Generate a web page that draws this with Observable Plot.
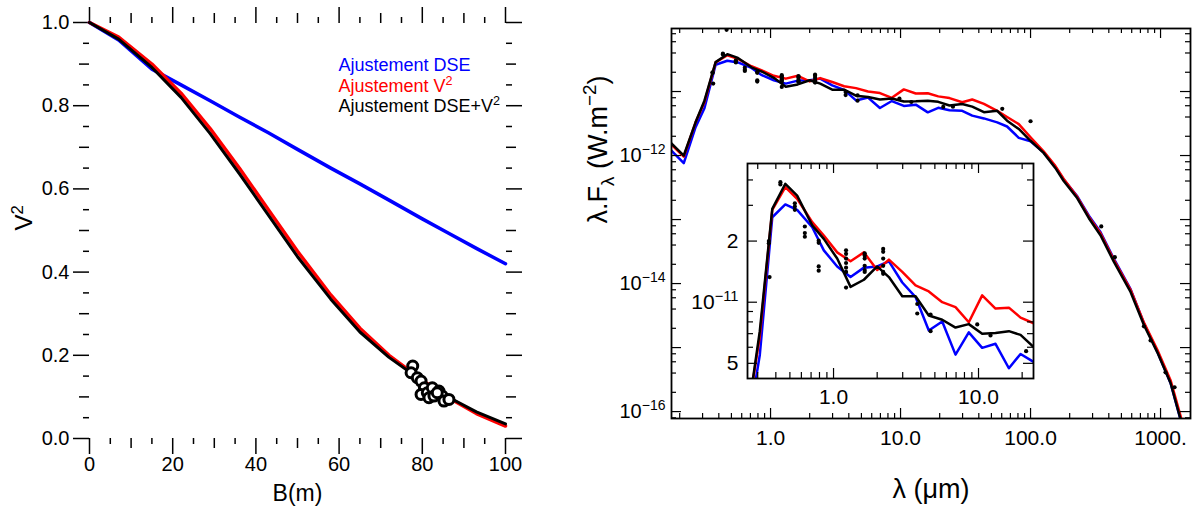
<!DOCTYPE html>
<html>
<head>
<meta charset="utf-8">
<script src="https://cdn.jsdelivr.net/npm/d3@7"></script>
<script src="https://cdn.jsdelivr.net/npm/@observablehq/plot@0.6"></script>
<style>
  html, body { margin: 0; padding: 0; background: #fff; }
  #chart { position: relative; width: 1193px; height: 520px; overflow: hidden; background: #fff; }
  #chart > svg { position: absolute; }
</style>
</head>
<body>
<div id="chart"></div>
<script>
// ---------------- Left panel data: V^2 versus baseline ----------------
const baselines  = [0, 7, 15, 22, 29, 36, 43, 50, 58, 65, 72, 80, 86, 93, 100];
const v2FitDSE   = [1, 0.958, 0.888, 0.85, 0.812, 0.773, 0.735, 0.695, 0.65, 0.612, 0.573, 0.528, 0.495, 0.457, 0.42];
const v2FitV2    = [1, 0.965, 0.90, 0.83, 0.745, 0.65, 0.55, 0.45, 0.345, 0.265, 0.20, 0.14, 0.10, 0.06, 0.03];
const v2FitBoth  = [1, 0.96, 0.892, 0.82, 0.733, 0.637, 0.537, 0.437, 0.335, 0.256, 0.195, 0.138, 0.101, 0.064, 0.035];
const obsBaseline = [77.7, 77.3, 78.8, 79.7, 80.5, 79.7, 81.2, 82.4, 81.6, 82.8, 84.0, 84.8, 85.2, 86.4, 83.6];
const obsV2       = [0.174, 0.158, 0.146, 0.138, 0.122, 0.106, 0.110, 0.122, 0.098, 0.102, 0.114, 0.102, 0.090, 0.094, 0.110];
const legendLabels = ["Ajustement DSE", "Ajustement V^{2}", "Ajustement DSE+V^{2}"];
const legendColors = ["#0000ff", "#ff0000", "#000000"];
const bMajorTicks = [0, 20, 40, 60, 80, 100];
const bMidTicks   = [10, 30, 50, 70, 90];
const bMinorTicks = [5, 15, 25, 35, 45, 55, 65, 75, 85, 95];
const v2MajorTicks = [0, 0.2, 0.4, 0.6, 0.8, 1.0];
const v2MidTicks   = [0.1, 0.3, 0.5, 0.7, 0.9];
const v2MinorTicks = [0.05, 0.15, 0.25, 0.35, 0.45, 0.55, 0.65, 0.75, 0.85, 0.95];

// ---------------- Right panel data: SED ----------------
const wavelengths = [0.172, 0.215, 0.265, 0.31, 0.378, 0.465, 0.561, 0.713, 0.857, 1.06, 1.31, 1.62, 2.0, 2.41, 2.98, 3.68, 4.54, 5.62, 6.94, 8.57, 10.6, 13.1, 16.2, 19.5, 23.8, 29.8, 35.6, 43.8, 55.4, 66.0, 81.2, 100, 126, 155, 180, 229, 281, 345, 437, 588, 745, 943, 1194, 1425, 1700];
const sedDSE  = [1.2e-12, 7.6e-13, 2.77e-12, 5.5e-12, 2.62e-11, 3.03e-11, 2.85e-11, 2.34e-11, 1.80e-11, 1.50e-11, 1.33e-11, 1.48e-11, 1.50e-11, 1.59e-11, 1.25e-11, 1.06e-11, 7.26e-12, 8.04e-12, 5.52e-12, 7.1e-12, 5.96e-12, 6.24e-12, 4.73e-12, 5.56e-12, 5.1e-12, 5.0e-12, 4.2e-12, 3.8e-12, 3.3e-12, 2.84e-12, 1.89e-12, 1.67e-12, 1.12e-12, 6.7e-13, 4.2e-13, 2.3e-13, 1.15e-13, 6.4e-14, 2.45e-14, 8.2e-15, 2.4e-15, 8.7e-16, 2.8e-16, 7.5e-17, 1.7e-17];
const sedV2   = [1.49e-12, 9.6e-13, 3.3e-12, 6.8e-12, 2.85e-11, 3.69e-11, 3.23e-11, 2.48e-11, 2.13e-11, 1.76e-11, 1.59e-11, 1.76e-11, 1.44e-11, 1.62e-11, 1.41e-11, 1.21e-11, 1.13e-11, 1.0e-11, 9.45e-12, 7.97e-12, 1.08e-11, 9.3e-12, 9.4e-12, 8.4e-12, 7.9e-12, 6.8e-12, 7.5e-12, 6.4e-12, 5.0e-12, 4.0e-12, 3.1e-12, 1.93e-12, 1.16e-12, 6.9e-13, 4.3e-13, 2.25e-13, 1.1e-13, 6.1e-14, 2.35e-14, 8.0e-15, 2.45e-15, 9.3e-16, 3.1e-16, 8.6e-17, 2.1e-17];
const sedBoth = [1.56e-12, 1.0e-12, 3.3e-12, 7.2e-12, 2.88e-11, 3.83e-11, 3.35e-11, 2.39e-11, 2.05e-11, 1.64e-11, 1.19e-11, 1.29e-11, 1.50e-11, 1.33e-11, 1.07e-11, 1.07e-11, 8.6e-12, 8.2e-12, 7.5e-12, 7.8e-12, 7.0e-12, 7.05e-12, 7.2e-12, 6.9e-12, 6.05e-12, 6.4e-12, 5.8e-12, 4.75e-12, 5.0e-12, 3.5e-12, 2.6e-12, 1.7e-12, 1.1e-12, 6.4e-13, 4.0e-13, 2.15e-13, 1.05e-13, 5.7e-14, 2.2e-14, 7.4e-15, 2.25e-15, 8.5e-16, 2.8e-16, 7.6e-17, 1.8e-17];
const obsWavelength = [0.358, 0.358, 0.362, 0.43, 0.43, 0.459, 0.541, 0.541, 0.541, 0.634, 0.634, 0.634, 0.79, 0.79, 0.79, 0.79, 1.22, 1.22, 1.22, 1.22, 1.22, 1.22, 1.22, 1.64, 1.64, 1.64, 1.64, 1.64, 1.64, 2.2, 2.2, 2.2, 2.2, 2.2, 2.2, 3.78, 3.78, 4.67, 4.67, 9.8, 12.1, 21.3, 25.3, 60.6, 100, 350, 445, 745, 838, 1092, 1282];
const obsFlux = [2.0e-11, 1.95e-11, 1.33e-11, 3.9e-11, 3.8e-11, 9.2e-11, 3.07e-11, 2.96e-11, 2.85e-11, 2.36e-11, 2.19e-11, 2.1e-11, 2.01e-11, 1.96e-11, 1.5e-11, 1.43e-11, 1.8e-11, 1.73e-11, 1.64e-11, 1.56e-11, 1.48e-11, 1.41e-11, 1.18e-11, 1.74e-11, 1.7e-11, 1.64e-11, 1.51e-11, 1.44e-11, 1.41e-11, 1.83e-11, 1.77e-11, 1.64e-11, 1.51e-11, 1.41e-11, 1.38e-11, 9.8e-12, 8.8e-12, 8.7e-12, 7.2e-12, 7.77e-12, 6.86e-12, 5.74e-12, 5.8e-12, 5.37e-12, 3.43e-12, 7.8e-14, 2.58e-14, 2.15e-15, 1.29e-15, 4.1e-16, 2.4e-16];

const lamMajorTicks = [1, 10, 100, 1000];
const lamMajorLabels = ["1.0", "10.0", "100.0", "1000."];
const fluxLabelTicks = [1e-12, 1e-14, 1e-16];
const fluxLabels = ["10^{−12}", "10^{−14}", "10^{−16}"];
const fluxMajorTicks = [1e-16, 1e-15, 1e-14, 1e-13, 1e-12, 1e-11];
const insetLamTicks = [1, 10];
const insetLamLabels = ["1.0", "10.0"];
const insetFluxTicks = [5e-12, 1e-11, 2e-11];
const insetFluxLabels = ["5", "10^{−11}", "2"];
const insetFluxMinor = [6e-12, 7e-12, 8e-12, 9e-12, 3e-11, 4e-11];

// ---------------- helpers ----------------
const FONT = '"Liberation Sans", Arial, Helvetica, sans-serif';
const baseStyle = {fontFamily: FONT, fontSize: "20px", background: "transparent", color: "black", overflow: "visible"};
const decadeMinor = (lo, hi, mults) => {
  const out = [];
  for (let e = lo; e <= hi; e++) for (const m of mults) out.push(m * Math.pow(10, e));
  return out;
};
const within = (arr, [a, b]) => arr.filter((d) => d >= a && d <= b);

function richify(root) {
  const NS = "http://www.w3.org/2000/svg";
  root.querySelectorAll("text").forEach((t) => {
    const s = t.textContent;
    if (!/[\^_]\{/.test(s)) return;
    const fs = parseFloat(getComputedStyle(t).fontSize) || 18;
    t.textContent = "";
    let shift = 0;
    const add = (txt, target, small) => {
      if (!txt) return;
      const sp = document.createElementNS(NS, "tspan");
      const d = target - shift;
      if (d) sp.setAttribute("dy", d.toFixed(2));
      if (small) sp.setAttribute("font-size", (fs * 0.7).toFixed(2));
      sp.textContent = txt;
      t.appendChild(sp);
      shift = target;
    };
    const re = /([\^_])\{([^}]*)\}/g;
    let last = 0, m;
    while ((m = re.exec(s))) {
      add(s.slice(last, m.index), 0, false);
      add(m[2], m[1] === "^" ? -fs * 0.4 : fs * 0.24, true);
      last = re.lastIndex;
    }
    add(s.slice(last), 0, false);
  });
}

const chart = document.getElementById("chart");

// ---------------- Left panel ----------------
const vRows = (vals) => baselines.map((b, i) => ({b, v: vals[i]}));
const obsVRows = obsBaseline.map((b, i) => ({b, v: obsV2[i]}));
const tickOpts = {stroke: "black", strokeWidth: 1.5, fill: "none", label: null};

const left = Plot.plot({
  width: 570, height: 520,
  marginLeft: 89, marginRight: 65, marginTop: 22, marginBottom: 82,
  style: baseStyle,
  x: {type: "linear", domain: [0, 100], label: null},
  y: {type: "linear", domain: [0, 1], label: null},
  marks: [
    Plot.axisY(v2MajorTicks, {anchor: "left", tickSize: 16, tickPadding: 4, tickFormat: d3.format(".1f"), stroke: "black", strokeWidth: 1.5, label: null}),
    Plot.axisY(v2MidTicks, {anchor: "left", tickSize: 10, ...tickOpts}),
    Plot.axisY(v2MinorTicks, {anchor: "left", tickSize: 6, ...tickOpts}),
    Plot.axisY(v2MajorTicks, {anchor: "right", tickSize: 16, ...tickOpts}),
    Plot.axisY(v2MidTicks, {anchor: "right", tickSize: 10, ...tickOpts}),
    Plot.axisY(v2MinorTicks, {anchor: "right", tickSize: 6, ...tickOpts}),
    Plot.axisX(bMajorTicks, {anchor: "bottom", tickSize: 16, tickPadding: 2, tickFormat: d3.format("d"), stroke: "black", strokeWidth: 1.5, label: null}),
    Plot.axisX(bMidTicks, {anchor: "bottom", tickSize: 10, ...tickOpts}),
    Plot.axisX(bMinorTicks, {anchor: "bottom", tickSize: 6, ...tickOpts}),
    Plot.axisX(bMajorTicks, {anchor: "top", tickSize: 16, ...tickOpts}),
    Plot.axisX(bMidTicks, {anchor: "top", tickSize: 10, ...tickOpts}),
    Plot.axisX(bMinorTicks, {anchor: "top", tickSize: 6, ...tickOpts}),
    Plot.line(vRows(v2FitDSE), {x: "b", y: "v", stroke: legendColors[0], strokeWidth: 3.5}),
    Plot.line(vRows(v2FitV2), {x: "b", y: "v", stroke: legendColors[1], strokeWidth: 3.5}),
    Plot.line(vRows(v2FitBoth), {x: "b", y: "v", stroke: legendColors[2], strokeWidth: 3}),
    Plot.dot(obsVRows, {x: "b", y: "v", r: 5, fill: "white", stroke: "black", strokeWidth: 3}),
    ...legendLabels.map((t, i) => Plot.text([t], {frameAnchor: "top-left", dx: 249, dy: 36 + i * 20.5, textAnchor: "start", fill: legendColors[i], fontSize: 18})),
    Plot.text(["B(m)"], {frameAnchor: "bottom", dy: 62, fontSize: 23}),
    Plot.text(["V^{2}"], {frameAnchor: "left", dx: -65, rotate: -90, fontSize: 24})
  ]
});
left.style.left = "0px"; left.style.top = "0px";
chart.appendChild(left);

// ---------------- Right panel (main SED) ----------------
const sedRows = (vals) => wavelengths.map((w, i) => ({w, f: vals[i]}));
const obsRows = obsWavelength.map((w, i) => ({w, f: obsFlux[i]}));
const mainX = [0.173, 1700];
const mainY = [7.8e-17, 9.65e-11];
const PW = 623 - 101 - 3, PH = 520 - 28 - 102;
const mainXMinor = within(decadeMinor(-1, 2, [2, 3, 4, 5, 6, 7, 8, 9]), mainX);
const mainYMinor = within(decadeMinor(-17, -11, [2, 4, 6, 8]), mainY);
const tk = {stroke: "black", strokeWidth: 1.2};

const main = Plot.plot({
  width: 623, height: 520,
  marginLeft: 101, marginRight: 3, marginTop: 28, marginBottom: 102,
  style: baseStyle,
  x: {type: "log", domain: mainX, label: null},
  y: {type: "log", domain: mainY, label: null},
  marks: [
    Plot.line(sedRows(sedDSE), {x: "w", y: "f", stroke: "#0000ff", strokeWidth: 2.5, clip: true}),
    Plot.line(sedRows(sedV2), {x: "w", y: "f", stroke: "#ff0000", strokeWidth: 2.5, clip: true}),
    Plot.line(sedRows(sedBoth), {x: "w", y: "f", stroke: "#000000", strokeWidth: 2.5, clip: true}),
    Plot.dot(obsRows, {x: "w", y: "f", r: 2.1, fill: "black", clip: true}),
    Plot.tickX(mainXMinor, {...tk, insetTop: PH - 5}),
    Plot.tickX(mainXMinor, {...tk, insetBottom: PH - 5}),
    Plot.tickX(lamMajorTicks, {...tk, insetTop: PH - 10}),
    Plot.tickX(lamMajorTicks, {...tk, insetBottom: PH - 10}),
    Plot.tickY(mainYMinor, {...tk, insetRight: PW - 5}),
    Plot.tickY(mainYMinor, {...tk, insetLeft: PW - 5}),
    Plot.tickY(fluxMajorTicks, {...tk, insetRight: PW - 10}),
    Plot.tickY(fluxMajorTicks, {...tk, insetLeft: PW - 10}),
    Plot.frame({stroke: "black", strokeWidth: 1.8}),
    Plot.axisX(lamMajorTicks, {tickSize: 0, tickPadding: 12, fontSize: 21, tickFormat: (d) => lamMajorLabels[lamMajorTicks.indexOf(d)], label: null}),
    Plot.axisY(fluxLabelTicks, {tickSize: 0, tickPadding: 6, tickFormat: (d) => fluxLabels[fluxLabelTicks.indexOf(d)], label: null}),
    Plot.text(["λ (μm)"], {frameAnchor: "bottom", dy: 79, fontSize: 27}),
    Plot.text(["λ.F_{λ} (W.m^{−2})"], {frameAnchor: "left", dx: -73, rotate: -90, fontSize: 27})
  ]
});
main.style.left = "570px"; main.style.top = "0px";
chart.appendChild(main);

// ---------------- Inset ----------------
const insetX = [0.255, 23.95];
const insetY = [4.21e-12, 4.82e-11];
const IW = 345 - 47 - 12, IH = 280 - 13 - 52;
const insetXMinor = within(decadeMinor(-1, 1, [2, 3, 4, 5, 6, 7, 8, 9]), insetX);

const inset = Plot.plot({
  width: 345, height: 280,
  marginLeft: 47, marginRight: 12, marginTop: 13, marginBottom: 52,
  style: baseStyle,
  x: {type: "log", domain: insetX, label: null},
  y: {type: "log", domain: insetY, label: null},
  marks: [
    Plot.frame({fill: "white", stroke: "none"}),
    Plot.line(sedRows(sedDSE), {x: "w", y: "f", stroke: "#0000ff", strokeWidth: 2.5, clip: true}),
    Plot.line(sedRows(sedV2), {x: "w", y: "f", stroke: "#ff0000", strokeWidth: 2.5, clip: true}),
    Plot.line(sedRows(sedBoth), {x: "w", y: "f", stroke: "#000000", strokeWidth: 2.5, clip: true}),
    Plot.dot(obsRows, {x: "w", y: "f", r: 2.1, fill: "black", clip: true}),
    Plot.tickX(insetXMinor, {...tk, insetTop: IH - 6}),
    Plot.tickX(insetXMinor, {...tk, insetBottom: IH - 6}),
    Plot.tickX(insetLamTicks, {...tk, insetTop: IH - 10}),
    Plot.tickX(insetLamTicks, {...tk, insetBottom: IH - 10}),
    Plot.tickY(insetFluxMinor, {...tk, insetRight: IW - 6}),
    Plot.tickY(insetFluxMinor, {...tk, insetLeft: IW - 6}),
    Plot.tickY(insetFluxTicks, {...tk, insetRight: IW - 10}),
    Plot.tickY(insetFluxTicks, {...tk, insetLeft: IW - 10}),
    Plot.frame({stroke: "black", strokeWidth: 1.8}),
    Plot.axisX(insetLamTicks, {tickSize: 0, tickPadding: 11, fontSize: 21, tickFormat: (d) => insetLamLabels[insetLamTicks.indexOf(d)], label: null}),
    Plot.axisY(insetFluxTicks, {tickSize: 0, tickPadding: 9, fontSize: 21, tickFormat: (d) => insetFluxLabels[insetFluxTicks.indexOf(d)], label: null})
  ]
});
inset.style.left = "700px"; inset.style.top = "150px";
chart.appendChild(inset);

[left, main, inset].forEach(richify);
</script>
</body>
</html>
